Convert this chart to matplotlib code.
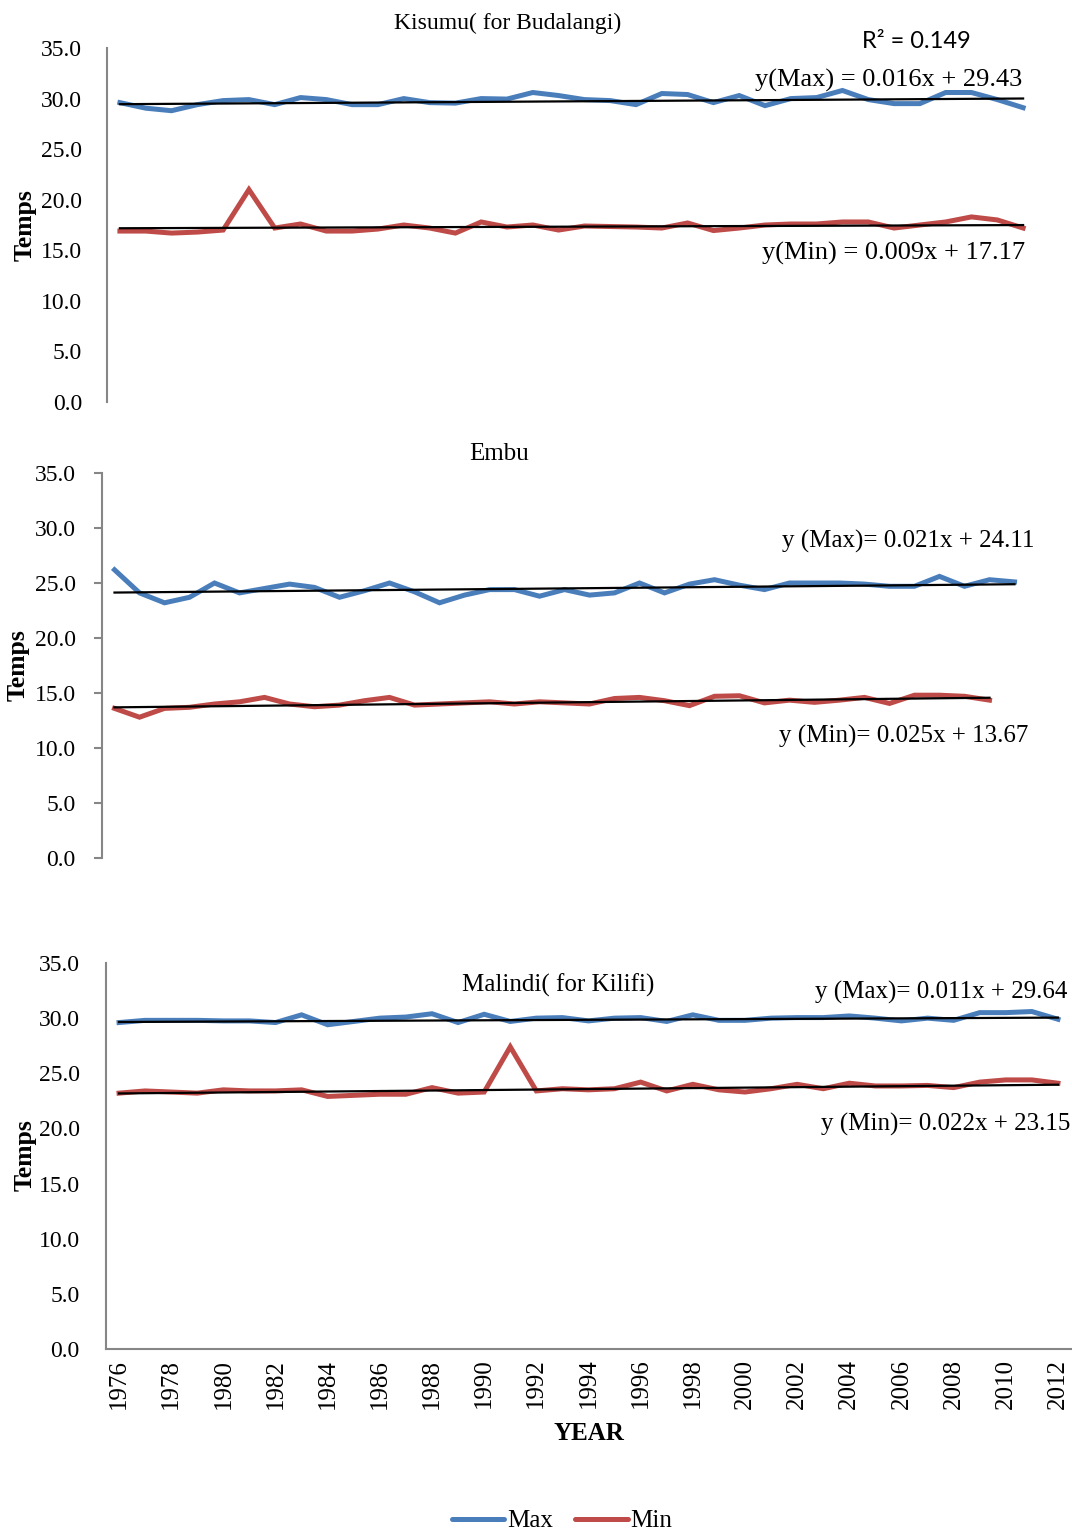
import numpy as np
import matplotlib
matplotlib.use("Agg")
import matplotlib.pyplot as plt
from matplotlib.lines import Line2D

plt.rcParams['font.family'] = ['Liberation Serif', 'DejaVu Serif']

# Kisumu (for Budalangi), 1976-2011
kis_years = list(range(1976, 2012))
kis_max = [29.6, 29.05, 28.8, 29.4, 29.8, 29.9, 29.4, 30.1, 29.9, 29.4, 29.4, 30.0,
           29.6, 29.55, 30.0, 29.95, 30.6, 30.3, 29.9, 29.8, 29.4, 30.5, 30.4, 29.6,
           30.3, 29.3, 30.0, 30.1, 30.8, 29.9, 29.5, 29.5, 30.6, 30.6, 29.9, 29.1]
kis_min = [16.9, 16.9, 16.7, 16.8, 17.0, 21.0, 17.2, 17.6, 16.9, 16.9, 17.1, 17.5,
           17.2, 16.7, 17.8, 17.3, 17.5, 17.0, 17.4, 17.35, 17.3, 17.2, 17.7, 16.95,
           17.2, 17.5, 17.6, 17.6, 17.8, 17.8, 17.2, 17.5, 17.8, 18.3, 18.0, 17.2]

# Embu, max 1976-2012, min 1976-2011
embu_years = list(range(1976, 2013))
embu_max = [26.2, 24.1, 23.2, 23.7, 25.0, 24.1, 24.5, 24.9, 24.6, 23.7, 24.3, 25.0,
            24.2, 23.2, 23.9, 24.4, 24.4, 23.8, 24.4, 23.9, 24.1, 25.0, 24.1, 24.9,
            25.3, 24.8, 24.4, 25.0, 25.0, 25.0, 24.9, 24.7, 24.7, 25.6, 24.7, 25.3, 25.1]
embu_min = [13.6, 12.8, 13.6, 13.7, 14.0, 14.2, 14.6, 14.0, 13.75, 13.9, 14.3, 14.6,
            13.9, 14.0, 14.1, 14.2, 14.0, 14.2, 14.1, 14.0, 14.5, 14.6, 14.3, 13.85,
            14.7, 14.75, 14.1, 14.35, 14.15, 14.35, 14.6, 14.05, 14.8, 14.8, 14.7, 14.35]

# Malindi (for Kilifi), 1976-2012
mal_years = list(range(1976, 2013))
mal_max = [29.6, 29.8, 29.8, 29.8, 29.75, 29.75, 29.6, 30.3, 29.4, 29.7, 30.0, 30.1,
           30.4, 29.6, 30.35, 29.7, 30.0, 30.05, 29.75, 30.0, 30.05, 29.7, 30.3, 29.8,
           29.8, 30.0, 30.05, 30.05, 30.2, 30.0, 29.75, 30.0, 29.8, 30.5, 30.5, 30.6, 29.9]
mal_min = [23.2, 23.4, 23.3, 23.2, 23.5, 23.4, 23.4, 23.5, 22.9, 23.0, 23.1, 23.1,
           23.7, 23.2, 23.3, 27.4, 23.4, 23.6, 23.5, 23.6, 24.2, 23.4, 24.0, 23.5,
           23.3, 23.6, 24.0, 23.6, 24.1, 23.85, 23.85, 23.9, 23.7, 24.2, 24.4, 24.4, 24.1]

# trend line coefficients (slope, intercept), x = 1..n
kis_fit = {'max': (0.016, 29.43), 'min': (0.009, 17.17)}
embu_fit = {'max': (0.021, 24.11), 'min': (0.025, 13.67)}
mal_fit = {'max': (0.011, 29.64), 'min': (0.022, 23.15)}

W, H = 1072, 1533
BLUE = '#4A7EBB'
RED = '#BE4B48'
GRAY = '#868686'
FS = 17

fig = plt.figure(figsize=(W / 100, H / 100), dpi=100)


def px_axes(left, top, right, bottom):
    return fig.add_axes([left / W, 1 - bottom / H, (right - left) / W, (bottom - top) / H])


def ftext(x, y, s, **kw):
    kw.setdefault('fontsize', FS)
    kw.setdefault('va', 'center')
    fig.text(x / W, 1 - y / H, s, **kw)


def draw_panel(ax, years, vmax, vmin, fit, xmax):
    ax.plot(years, vmax, color=BLUE, lw=3.6, solid_joinstyle='miter', zorder=2)
    ax.plot(years[:len(vmin)], vmin, color=RED, lw=3.6, solid_joinstyle='miter', zorder=2)
    for key, yrs in (('max', years), ('min', years[:len(vmin)])):
        a, b = fit[key]
        n = np.arange(1, len(yrs) + 1)
        ax.plot(yrs, a * n + b, color='black', lw=1.6, zorder=3)
    ax.set_xlim(1975.5, xmax)
    ax.set_ylim(0, 35)
    ax.set_yticks(np.arange(0, 35.1, 5))
    ax.set_yticklabels(['%.1f' % v for v in np.arange(0, 35.1, 5)], fontsize=FS)
    for s in ('top', 'right', 'bottom'):
        ax.spines[s].set_visible(False)
    ax.spines['left'].set_color(GRAY)
    ax.spines['left'].set_linewidth(1.5)
    ax.set_xticks([])


# Kisumu
ax1 = px_axes(107, 48, 1036, 402)
draw_panel(ax1, kis_years, kis_max, kis_min, kis_fit, 2011.5)
ax1.tick_params(axis='y', length=0, pad=18)

# Embu
ax2 = px_axes(102, 473, 1027, 858)
draw_panel(ax2, embu_years, embu_max, embu_min, embu_fit, 2012.5)
ax2.tick_params(axis='y', length=6, width=1.5, color=GRAY, pad=13)

# Malindi
ax3 = px_axes(106, 963, 1071, 1349)
draw_panel(ax3, mal_years, mal_max, mal_min, mal_fit, 2012.5)
ax3.spines['bottom'].set_visible(True)
ax3.spines['bottom'].set_color(GRAY)
ax3.spines['bottom'].set_linewidth(1.5)
ax3.tick_params(axis='y', length=0, pad=19)
ax3.set_xticks(mal_years[::2])
ax3.set_xticklabels([str(y) for y in mal_years[::2]], rotation=90, fontsize=18)
ax3.tick_params(axis='x', length=0, pad=7)

# panel titles and fit equations
ftext(508, 23, 'Kisumu( for Budalangi)', ha='center')
ftext(916, 41, 'R² = 0.149', ha='center', family=['Lato', 'DejaVu Sans'], fontsize=17)
ftext(1022, 80, 'y(Max) = 0.016x + 29.43', ha='right', fontsize=19)
ftext(1025, 253, 'y(Min) = 0.009x + 17.17', ha='right', fontsize=19)

ftext(499, 454, 'Embu', ha='center', fontsize=18)
ftext(1035, 541, 'y (Max)= 0.021x + 24.11', ha='right', fontsize=18)
ftext(1028, 736, 'y (Min)= 0.025x + 13.67', ha='right', fontsize=18)

ftext(558, 985, 'Malindi( for Kilifi)', ha='center', fontsize=18)
ftext(1067, 992, 'y (Max)= 0.011x + 29.64', ha='right', fontsize=18)
ftext(1070, 1124, 'y (Min)= 0.022x + 23.15', ha='right', fontsize=18)

# axis labels
for x, y in ((25, 225), (18, 665), (25, 1155)):
    ftext(x, y, 'Temps', ha='center', rotation=90, fontweight='bold', fontsize=18.5)
ftext(589, 1434, 'YEAR', ha='center', fontweight='bold', fontsize=18)

# legend
handles = [Line2D([], [], color=BLUE, lw=3.6, solid_capstyle='round'),
           Line2D([], [], color=RED, lw=3.6, solid_capstyle='round')]
fig.legend(handles, ['Max', 'Min'], loc='center', bbox_to_anchor=(562 / W, 1 - 1521 / H),
           ncol=2, frameon=False, fontsize=18, handlelength=2.1, handletextpad=0.1,
           columnspacing=0.9)

fig.savefig('out.png', dpi=100)
